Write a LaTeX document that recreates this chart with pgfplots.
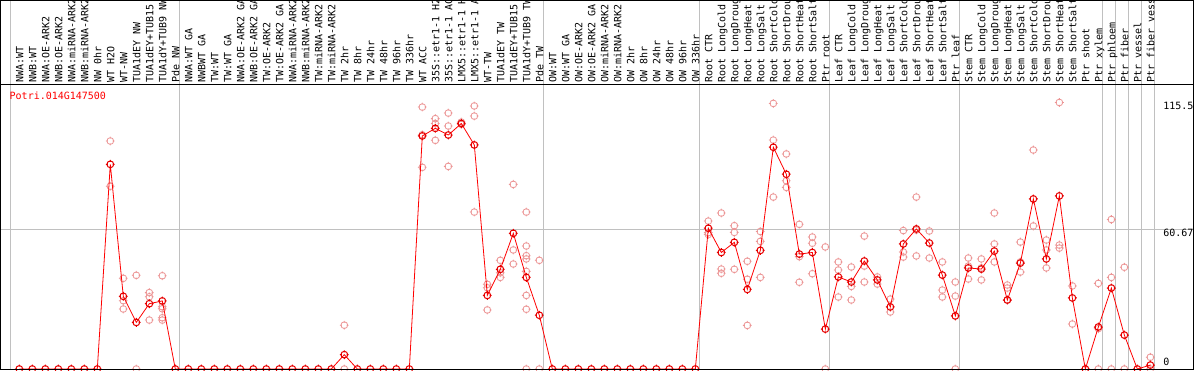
\documentclass[border=0pt]{standalone}
\usepackage{pgfplots}
\pgfplotsset{compat=1.18}
\usepackage{fontspec}
\setmainfont{DejaVu Sans}
\setmonofont{DejaVu Sans Mono}
\definecolor{repc}{RGB}{236,150,150}
\definecolor{meanc}{RGB}{230,0,0}
\definecolor{gridc}{RGB}{192,192,192}
\pgfdeclareplotmark{ocr}{%
  \pgfpathcircle{\pgfpoint{0pt}{0pt}}{\pgfplotmarksize}%
  \pgfpathmoveto{\pgfpoint{0pt}{\pgfplotmarksize+1pt}}\pgfpathlineto{\pgfpoint{0pt}{\pgfplotmarksize-1pt}}%
  \pgfpathmoveto{\pgfpoint{0pt}{-\pgfplotmarksize-1pt}}\pgfpathlineto{\pgfpoint{0pt}{-\pgfplotmarksize+1pt}}%
  \pgfpathmoveto{\pgfpoint{\pgfplotmarksize+1pt}{0pt}}\pgfpathlineto{\pgfpoint{\pgfplotmarksize-1pt}{0pt}}%
  \pgfpathmoveto{\pgfpoint{-\pgfplotmarksize-1pt}{0pt}}\pgfpathlineto{\pgfpoint{-\pgfplotmarksize+1pt}{0pt}}%
  \pgfusepathqstroke}
\newcommand{\mono}{\ttfamily\fontsize{10}{12}\selectfont}
\begin{document}
\begin{tikzpicture}
% separators (pixel coordinates, 1px = 1pt)
\foreach \p in {10.8,179.8,543.8,699.8,829.8,959.8,1102.8,1115.8,1128.8,1141.8,1154.8}
  \draw[gridc, line width=1pt] (\p pt,0pt) -- (\p pt,370pt);
\draw[gridc, line width=1pt] (0pt,140.5pt) -- (1194pt,140.5pt);
\begin{axis}[
  scale only axis, width=1194pt, height=370pt,
  xmin=-1.4846, xmax=90.3615, ymin=-0.4333, ymax=159.91,
  hide axis, clip marker paths=true,
]
\addplot[only marks, mark=ocr, mark size=3.4pt, mark options={draw=repc, line width=0.8pt}] coordinates {
(7,98.8)(7,79.2)
(8,39.3)(8,29.6)(8,26.0)
(9,40.6)(9,0)
(10,33.1)(10,31.3)(10,21.2)
(11,40.4)(11,27.0)(11,26.1)(11,22.2)(11,21.2)
(25,19.0)(25,0)
(31,113.5)(31,101.5)(31,87.4)
(32,108.5)(32,106.4)(32,99.1)
(33,110.9)(33,105.3)(33,87.8)
(34,107)(34,106)
(35,114.0)(35,109.6)(35,68.0)
(36,36.7)(36,35.2)(36,25.6)
(37,47.1)(37,41.7)(37,39.7)
(38,80.0)(38,51.6)(38,45.5)
(39,68.0)(39,53.3)(39,49.1)(39,47.7)(39,42.3)(39,31.9)(39,25.9)(39,0)
(40,47.1)(40,0)
(53,64.1)(53,59.1)(53,58.3)
(54,67.6)(54,43.3)(54,41.5)
(55,62.1)(55,59.2)(55,43.2)
(56,46.7)(56,38.9)(56,18.9)
(57,59.6)(57,55.3)(57,39.7)
(58,115.1)(58,99.2)(58,74.5)
(59,93.2)(59,81.6)(59,78.7)
(60,62.7)(60,48.7)(60,37.6)
(61,57.2)(61,54.5)(61,41.3)
(62,52.9)(62,0)
(63,46.4)(63,42.9)(63,31.2)
(64,44.2)(64,35.8)(64,29.9)
(65,57.6)(65,44.6)(65,37.7)
(66,39.9)(66,36.8)
(67,30.3)(67,24.7)
(68,60.0)(68,50.7)(68,48.5)
(69,74.5)(69,60.2)(69,49.0)
(70,59.8)(70,48.1)
(71,46.4)(71,34.2)(71,31.2)
(72,37.7)(72,31.6)(72,0)
(73,48.1)(73,44.6)(73,39.0)
(74,47.7)(74,43.8)(74,38.6)
(75,67.6)(75,54.2)(75,46.4)
(76,36.4)(76,35.1)(76,29.9)
(77,55.0)(77,46.4)(77,42.0)
(78,94.9)(78,62.0)
(79,55.9)(79,51.6)(79,43.8)
(80,115.5)(80,53.7)(80,52.4)
(81,36.0)(81,19.5)
(83,37.1)(83,17.5)(83,0)
(84,64.8)(84,39.7)(84,0)
(85,44.1)(85,0)
(87,5.1)(87,0)
};
\addplot[red, line width=0.8pt, mark=ocr, mark size=3.4pt, mark options={draw=meanc, line width=1pt}] coordinates {
(0,0)(1,0)(2,0)(3,0)(4,0)(5,0)(6,0)(7,88.7)(8,31.5)(9,20.2)(10,28.3)(11,29.5)(12,0)
(13,0)(14,0)(15,0)(16,0)(17,0)(18,0)(19,0)(20,0)(21,0)(22,0)(23,0)(24,0)(25,6.2)(26,0)
(27,0)(28,0)(29,0)(30,0)(31,101.0)(32,104.3)(33,101.4)(34,106.4)(35,97.1)(36,31.9)
(37,43.2)(38,58.8)(39,39.7)(40,23.3)
(41,0)(42,0)(43,0)(44,0)(45,0)(46,0)(47,0)(48,0)(49,0)(50,0)(51,0)(52,0)
(53,61.0)(54,50.5)(55,54.9)(56,34.5)(57,51.4)(58,96.1)(59,84.4)(60,49.8)(61,50.5)(62,17.3)
(63,39.9)(64,37.7)(65,46.8)(66,38.6)(67,26.9)(68,54.2)(69,60.7)(70,54.6)(71,40.7)(72,23.0)
(73,43.8)(74,43.3)(75,51.1)(76,29.9)(77,45.9)(78,73.7)(79,47.7)(80,75.0)(81,30.8)(82,0)
(83,18.2)(84,35.1)(85,14.7)(86,0)(87,1.7)
};
\node[anchor=north west, inner sep=0pt, font=\mono] at (axis cs:87.98,115.5) {115.5};
\node[anchor=north west, inner sep=0pt, font=\mono] at (axis cs:87.98,60.67) {60.67};
\node[anchor=south west, inner sep=0pt, font=\mono] at (axis cs:87.98,1.5) {0};
\end{axis}
% header
\fill[white] (0pt,285pt) rectangle (1194pt,370pt);
\foreach \p in {10.8,179.8,543.8,699.8,829.8,959.8,1102.8,1115.8,1128.8,1141.8,1154.8}
  \draw[gridc, line width=1pt] (\p pt,285pt) -- (\p pt,370pt);
\begin{scope}
\clip (0pt,285pt) rectangle (1194pt,370pt);
\foreach \i/\lab in {0/NWA:WT,1/NWB:WT,2/NWA:OE-ARK2,3/NWB:OE-ARK2,4/NWA:miRNA-ARK2,5/NWB:miRNA-ARK2,6/NW 0hr,7/WT H2O,8/WT-NW,9/TUA1dEY NW,10/TUA1dEY+TUB15,11/TUA1dY+TUB9 NW,12/Pde NW,
13/NWA:WT GA,14/NWBWT GA,15/TW:WT,16/TW:WT GA,17/NWA:OE-ARK2 GA,18/NWB:OE-ARK2 GA,19/TW:OE-ARK2,20/TW:OE-ARK2 GA,21/NWA:miRNA-ARK2,22/NWB:miRNA-ARK2,23/TW:miRNA-ARK2,24/TW:miRNA-ARK2,
25/TW 2hr,26/TW 8hr,27/TW 24hr,28/TW 48hr,29/TW 96hr,30/TW 336hr,31/WT ACC,32/35S::etr1-1 H2O,33/35S::etr1-1 ACC,34/LMX5::etr1-1 H2O,35/LMX5::etr1-1 ACC,36/WT-TW,37/TUA1dEY TW,38/TUA1dEY+TUB15 TW,39/TUA1dY+TUB9 TW,40/Pde TW,
41/OW:WT,42/OW:WT GA,43/OW:OE-ARK2,44/OW:OE-ARK2 GA,45/OW:miRNA-ARK2,46/OW:miRNA-ARK2,47/OW 2hr,48/OW 8hr,49/OW 24hr,50/OW 48hr,51/OW 96hr,52/OW 336hr,
53/Root CTR,54/Root LongCold,55/Root LongDrought,56/Root LongHeat,57/Root LongSalt,58/Root ShortCold,59/Root ShortDrought,60/Root ShortHeat,61/Root ShortSalt,62/Ptr root,
63/Leaf CTR,64/Leaf LongCold,65/Leaf LongDrought,66/Leaf LongHeat,67/Leaf LongSalt,68/Leaf ShortCold,69/Leaf ShortDrought,70/Leaf ShortHeat,71/Leaf ShortSalt,72/Ptr leaf,
73/Stem CTR,74/Stem LongCold,75/Stem LongDrought,76/Stem LongHeat,77/Stem LongSalt,78/Stem ShortCold,79/Stem ShortDrought,80/Stem ShortHeat,81/Stem ShortSalt,82/Ptr shoot,
83/Ptr xylem,84/Ptr phloem,85/Ptr fiber,86/Ptr vessel,87/Ptr fiber vessel}
  \node[rotate=90, anchor=base west, inner sep=0pt, font=\mono] at ({(19.3+13*\i+4)*1pt},287pt) {\lab};
\end{scope}
\draw[black, line width=1pt] (0pt,285pt) -- (1194pt,285pt);
\draw[black, line width=1pt] (0pt,1pt) -- (1194pt,1pt);
\draw[black, line width=1pt] (0.5pt,0.5pt) rectangle (1193.5pt,369.5pt);
\node[anchor=base west, inner sep=0pt, font=\mono, text=red] at (9.5pt,270pt) {Potri.014G147500};
\pgfresetboundingbox
\useasboundingbox (0pt,0pt) rectangle (1194pt,370pt);
\end{tikzpicture}
\end{document}
